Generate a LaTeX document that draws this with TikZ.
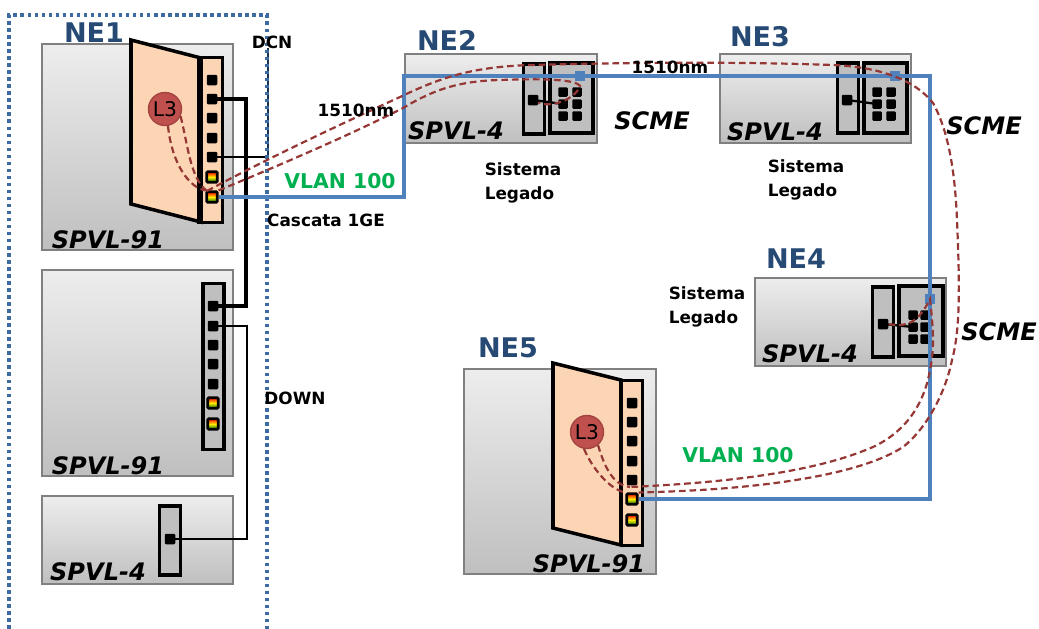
\documentclass[tikz,border=0pt]{standalone}
\usepackage{fontspec}
\setmainfont{DejaVu Sans}
\usepackage{xcolor}
\definecolor{nenavy}{RGB}{38,74,115}
\definecolor{nedots}{RGB}{61,106,160}
\definecolor{vlanblue}{RGB}{79,129,189}
\definecolor{vlangreen}{RGB}{0,176,80}
\definecolor{fibred}{RGB}{149,55,53}
\definecolor{cardpeach}{RGB}{252,213,180}
\definecolor{l3red}{RGB}{192,80,77}
\usetikzlibrary{positioning,shadows}
\tikzset{
  chassis/.style={draw=black!50,line width=0.8pt,top color=black!7,bottom color=black!25,inner sep=0pt,
    drop shadow={opacity=0.25,shadow xshift=0.6pt,shadow yshift=-0.8pt}},
  cardbody/.style={draw=black,fill=cardpeach,line width=2pt,line join=miter},
  stripbox/.style={draw=black,fill=black!25,line width=2pt,inner sep=0pt,minimum width=0.42cm},
  portblk/.style={fill=black,rounded corners=0.6pt,inner sep=0pt,minimum size=0.21cm},
  portsml/.style={portblk,minimum size=0.19cm},
  portled/.style={draw=black,line width=1.5pt,rounded corners=0.6pt,inner sep=0pt,minimum size=0.21cm,
    top color=red,bottom color=green!45!black,middle color=yellow!85!orange},
  blueknot/.style={fill=vlanblue,inner sep=0pt,minimum size=0.2cm},
  l3node/.style={circle,draw=l3red!85!black,fill=l3red,line width=0.8pt,minimum size=0.66cm,inner sep=0pt,font=\fontsize{11.5}{12}\selectfont},
  netitle/.style={text=nenavy,font=\fontsize{15.4}{18}\selectfont\bfseries},
  boardname/.style={font=\fontsize{13.7}{16}\selectfont\bfseries\itshape},
  smalltag/.style={font=\fontsize{9.6}{13.5}\selectfont\bfseries,align=left},
  vlantag/.style={text=vlangreen,font=\fontsize{11.6}{14}\selectfont\bfseries},
  fiber/.style={draw=fibred,line width=1.25pt,dash pattern=on 3.8pt off 2.2pt},
  vlanline/.style={draw=vlanblue,line width=2.2pt,line join=miter},
}
\begin{document}
\begin{tikzpicture}[x=0.02cm,y=-0.02cm]
  \useasboundingbox (0,0) rectangle (1039,629);
  % chassis
  \node[chassis,minimum width=3.82cm,minimum height=4.12cm] (ne1a) at (137.5,147) {};
  \node[chassis,minimum width=3.82cm,minimum height=4.12cm] (ne1b) at (137.5,373) {};
  \node[chassis,minimum width=3.82cm,minimum height=1.76cm] (ne1c) at (137.5,540) {};
  \node[chassis,minimum width=3.84cm,minimum height=1.78cm] (ne2) at (501,98.5) {};
  \node[chassis,minimum width=3.82cm,minimum height=1.78cm] (ne3) at (815.5,98.5) {};
  \node[chassis,minimum width=3.82cm,minimum height=1.76cm] (ne4) at (850.5,322) {};
  \node[chassis,minimum width=3.84cm,minimum height=4.10cm] (ne5) at (560,471.5) {};
  % L3 cards
  \draw[cardbody] (131,40) -- (201,58) -- (201,222) -- (131,204) -- cycle;
  \draw[cardbody] (553,363) -- (621,380) -- (621,545) -- (553,528) -- cycle;
  % port strips
  \node[stripbox,fill=cardpeach,minimum height=3.30cm] (s1a) at (212,140) {};
  \node[stripbox,minimum height=3.32cm] (s1b) at (213.5,366.5) {};
  \node[stripbox,minimum height=1.38cm] (s1c) at (170,540.5) {};
  \node[stripbox,minimum height=1.40cm] (s2) at (534,99) {};
  \node[stripbox,minimum height=1.40cm] (s3) at (848,98) {};
  \node[stripbox,minimum height=1.40cm] (s4) at (883,322) {};
  \node[stripbox,fill=cardpeach,minimum height=3.30cm] (s5) at (632,463) {};
  \node[stripbox,minimum width=0.86cm,minimum height=1.40cm] (p2) at (571.5,98) {};
  \node[stripbox,minimum width=0.86cm,minimum height=1.40cm] (p3) at (885.5,98) {};
  \node[stripbox,minimum width=0.88cm,minimum height=1.40cm] (p4) at (921,321) {};
  \draw[line width=3.2pt] (s1a.north west) -- (s1a.south west);
  % ports
  \node[portblk] (a1) at (212,80) {};  \node[portblk] (a2) at (212,99) {};
  \node[portblk] (a3) at (212,118) {}; \node[portblk] (a4) at (212,138) {};
  \node[portblk] (a5) at (212,157) {};
  \node[portled] (a6) at (212,177) {}; \node[portled] (a7) at (212,197) {};
  \node[portblk] (b1) at (213,306) {}; \node[portblk] (b2) at (213,326) {};
  \node[portblk] (b3) at (213,345) {}; \node[portblk] (b4) at (213,364) {};
  \node[portblk] (b5) at (213,384) {};
  \node[portled] (b6) at (213,403) {}; \node[portled] (b7) at (213,424) {};
  \node[portblk] (c1) at (170,539) {};
  \node[portblk] (d1) at (533,100) {};
  \node[portsml] (d2) at (563,92) {};  \node[portsml] (d3) at (577,92) {};
  \node[portsml] (d4) at (563,104) {}; \node[portsml] (d5) at (577,104) {};
  \node[portsml] (d6) at (563,116) {}; \node[portsml] (d7) at (577,116) {};
  \node[portblk] (e1) at (847,100) {};
  \node[portsml] (e2) at (877,92) {};  \node[portsml] (e3) at (891,92) {};
  \node[portsml] (e4) at (877,104) {}; \node[portsml] (e5) at (891,104) {};
  \node[portsml] (e6) at (877,116) {}; \node[portsml] (e7) at (891,116) {};
  \node[portblk] (f1) at (883,324) {};
  \node[portsml] (f2) at (913,315) {}; \node[portsml] (f3) at (925,315) {};
  \node[portsml] (f4) at (913,327) {}; \node[portsml] (f5) at (925,327) {};
  \node[portsml] (f6) at (913,339) {}; \node[portsml] (f7) at (925,339) {};
  \node[portblk] (g1) at (632,403) {}; \node[portblk] (g2) at (632,422) {};
  \node[portblk] (g3) at (632,441) {}; \node[portblk] (g4) at (632,461) {};
  \node[portblk] (g5) at (632,480) {};
  \node[portled] (g6) at (632,499) {}; \node[portled] (g7) at (632,520) {};
  % L3 circles
  \node[l3node] (l3a) at (165,109) {L3};
  \node[l3node] (l3b) at (587,432) {L3};
  % copper links
  \coordinate (dcntop) at (268,48);
  \coordinate (dcnbend) at (268,157);
  \draw[line width=1.9pt] (a2.center) -| (246,306) -- (b1.center);
  \draw[line width=1.2pt] (b2.center) -| (247,539) -- (c1.center);
  \draw[line width=1.2pt] (a5.center) -- (dcnbend);
  \draw[nenavy!70!black,line width=1.2pt] (dcnbend) -- (dcntop);
  \draw[line width=1.3pt] (d1.center) -- (d4.center);
  \draw[line width=1.3pt] (e1.center) -- (e4.center);
  \draw[line width=1.3pt] (f1.center) -- (f4.center);
  % NE1 boundary
  \draw[nedots,line width=2pt,dash pattern=on 2pt off 2pt] (9,629) -- (9,15) -- (267,15) -- (267,629);
  % VLAN ring
  \node[blueknot] (k2) at (580,76) {};
  \node[blueknot] (k3) at (895,76) {};
  \node[blueknot] (k4) at (930,299) {};
  \draw[vlanline] (a7.east) -- (404,197) -- (404,76) -- (k2) -- (k3) -- (930,76) -- (k4) -- (930,499) -- (g6.east);
  % fibre
  \coordinate (hub1) at (207,191);
  \coordinate (hub5) at (630,487);
  \draw[fiber] (l3a.-80) .. controls (172,165) and (190,188) .. (a7.north west);
  \draw[fiber] (l3a.-25) .. controls (188,145) and (190,178) .. (hub1);
  \draw[fiber] (hub1) .. controls (270,157) and (350,120) .. (400,97)
    .. controls (440,78) and (470,67) .. (530,65)
    .. controls (650,62) and (750,62) .. (833,65)
    .. controls (880,67) and (915,80) .. (933,103)
    .. controls (948,130) and (955,170) .. (957,220)
    .. controls (960,290) and (960,330) .. (952,360)
    .. controls (945,395) and (925,430) .. (903,447)
    .. controls (860,475) and (760,490) .. (g6.north east);
  \draw[fiber] (a7.north east) .. controls (280,165) and (350,135) .. (403,108)
    .. controls (430,92) and (455,81) .. (500,80)
    .. controls (530,79) and (575,78) .. (580,86)
    .. controls (575,100) and (550,108) .. (d1);
  \draw[fiber] (f1) .. controls (900,325) and (915,330) .. (k4.center)
    .. controls (934,335) and (934,350) .. (930,370)
    .. controls (924,405) and (905,432) .. (873,447)
    .. controls (820,470) and (740,482) .. (hub5);
  \draw[fiber] (l3b.-100) .. controls (592,468) and (610,490) .. (g6.north west);
  \draw[fiber] (l3b.-50) .. controls (604,465) and (612,485) .. (hub5);
  % titles
  \node[netitle] (t1) at (94,33) {NE1};
  \node[netitle] (t2) at (447,40) {NE2};
  \node[netitle] (t3) at (760,37) {NE3};
  \node[netitle] (t4) at (796,259) {NE4};
  \node[netitle] (t5) at (508,348) {NE5};
  \node[boardname] (n1) at (108,240) {SPVL-91};
  \node[boardname] (n2) at (108,466) {SPVL-91};
  \node[boardname] (n3) at (98,572) {SPVL-4};
  \node[boardname] (n4) at (456,131) {SPVL-4};
  \node[boardname] (n5) at (775,132) {SPVL-4};
  \node[boardname] (n6) at (810,354) {SPVL-4};
  \node[boardname] (n7) at (589,564) {SPVL-91};
  \node[boardname] (m1) at (652,121) {SCME};
  \node[boardname] (m2) at (984,126) {SCME};
  \node[boardname] (m3) at (999,332) {SCME};
  \node[smalltag] (s1t) at (523,183) {Sistema\\Legado};
  \node[smalltag] (s2t) at (806,180) {Sistema\\Legado};
  \node[smalltag] (s3t) at (707,307) {Sistema\\Legado};
  \node[smalltag] (dcn) at (272,42) {DCN};
  \node[smalltag] (down) at (295,398) {DOWN};
  \node[smalltag] (casc) at (326,220) {Cascata 1GE};
  \node[smalltag] (w1) at (356,110) {1510nm};
  \node[smalltag] (w2) at (670,67) {1510nm};
  \node[vlantag] (v1) at (340,181) {VLAN 100};
  \node[vlantag] (v2) at (738,455) {VLAN 100};
\end{tikzpicture}
\end{document}
